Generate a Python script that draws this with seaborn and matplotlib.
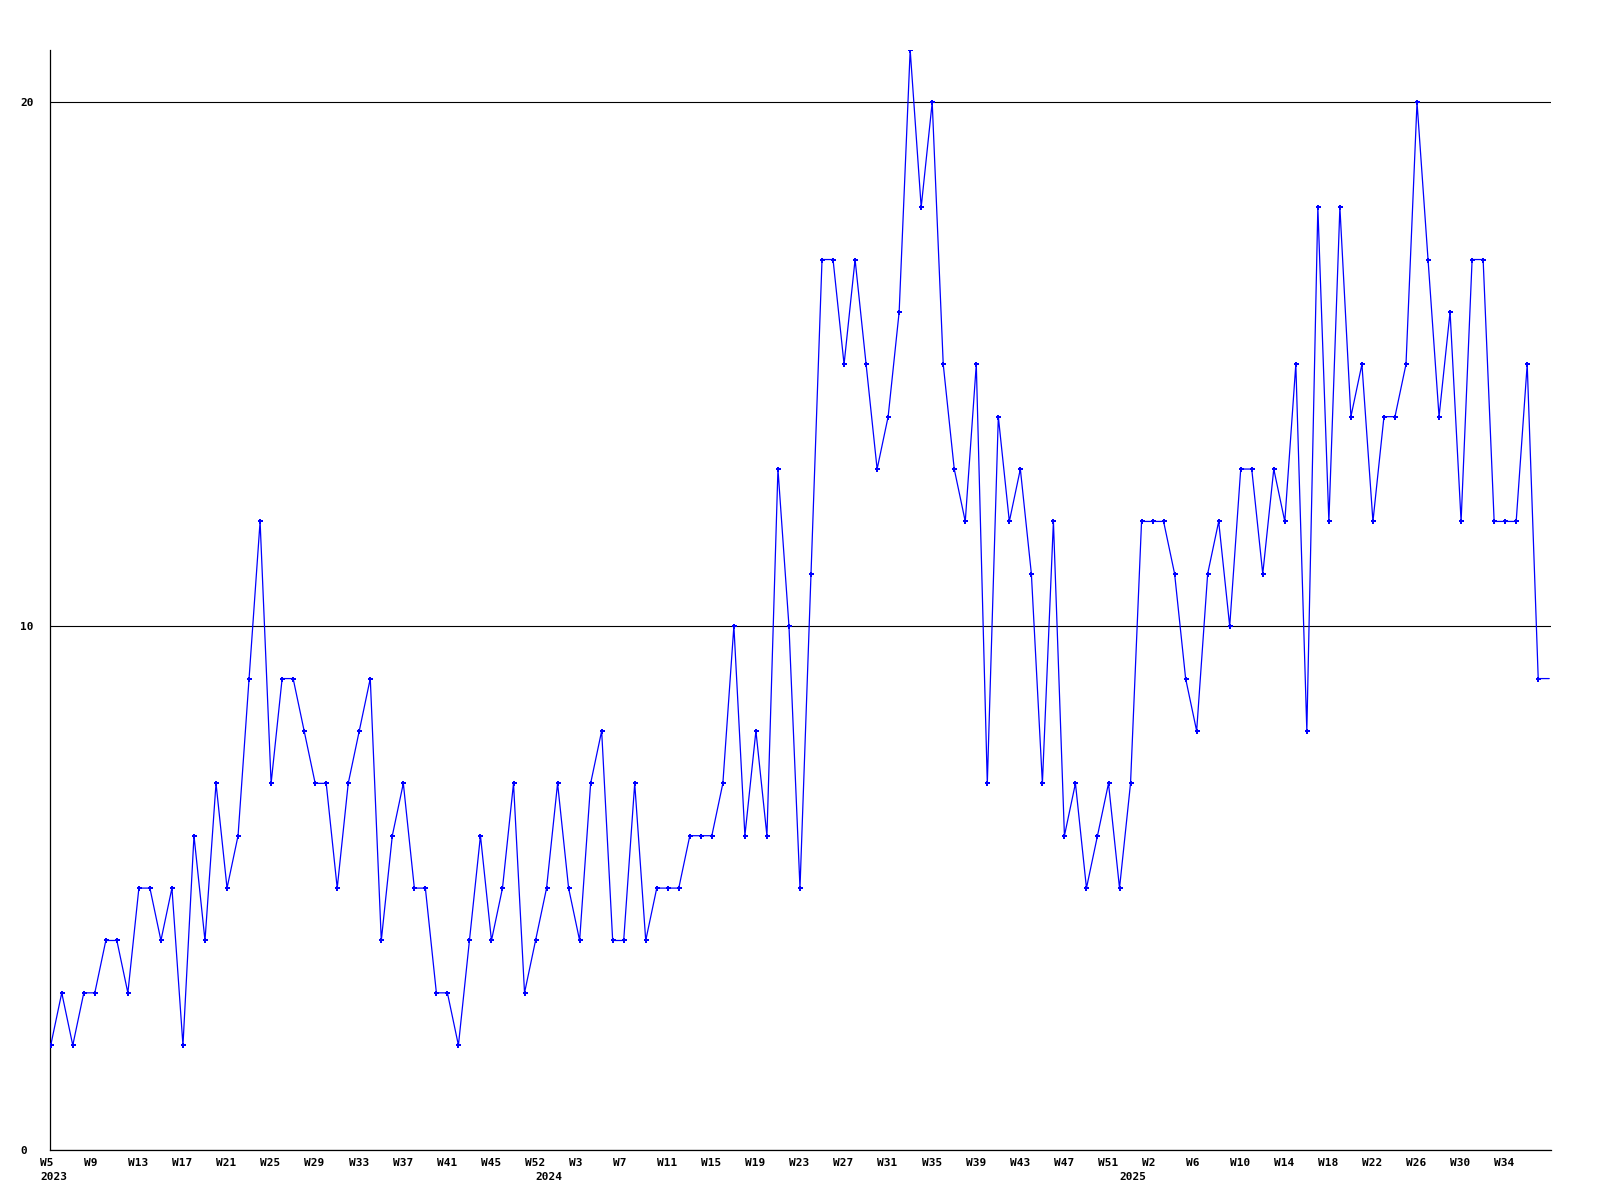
import numpy as np
import pandas as pd
import matplotlib
matplotlib.use("Agg")
import matplotlib.pyplot as plt
import seaborn as sns
from matplotlib.transforms import ScaledTranslation, blended_transform_factory

# ---- data (weekly values, W5 2023 .. 2025) ----
values = [
    2, 3, 2, 3, 3, 4, 4, 3, 5, 5, 4, 5, 2, 6, 4, 7, 5, 6, 9, 12,
    7, 9, 9, 8, 7, 7, 5, 7, 8, 9, 4, 6, 7, 5, 5, 3, 3, 2,
    4, 6, 4, 5, 7, 3, 4, 5, 7, 5, 4, 7, 8, 4, 4, 7, 4, 5, 5, 5,
    6, 6, 6, 7, 10, 6, 8, 6, 13, 10, 5, 11,
    17, 17, 15, 17, 15, 13, 14, 16, 21, 18, 20, 15, 13, 12, 15, 7,
    14, 12, 13, 11, 7, 12, 6, 7, 5, 6, 7, 5, 7, 12, 12, 12, 11, 9, 8, 11, 12,
    10, 13, 13, 11, 13, 12, 15, 8, 18, 12, 18, 14, 15, 12, 14, 14, 15, 20,
    17, 14, 16, 12, 17, 17, 12, 12, 12, 15, 9, 9,
]
tick_labels = ["W5", "W9", "W13", "W17", "W21", "W25", "W29", "W33", "W37",
               "W41", "W45", "W52", "W3", "W7", "W11", "W15", "W19", "W23",
               "W27", "W31", "W35", "W39", "W43", "W47", "W51", "W2", "W6",
               "W10", "W14", "W18", "W22", "W26", "W30", "W34"]
year_labels = ["2023", "2024", "2025"]
year_index = [0, 45, 98]
y_ticks = [0, 10, 20]

sns.set_theme(style="white")
plt.rcParams["font.family"] = ["DejaVu Sans Mono"]

fig = plt.figure(figsize=(16, 12), dpi=100)
ax = fig.add_axes([50.3 / 1600, 50 / 1200, 1500.7 / 1600, 1100 / 1200])

n = len(values)
df = pd.DataFrame({"idx": np.arange(n), "value": values})
sns.lineplot(data=df, x="idx", y="value", ax=ax, color="#0000ff",
             linewidth=0.9, marker="P", markersize=3.6, markeredgewidth=0,
             markevery=list(range(n - 1)), zorder=3)

ax.set_xlim(-0.04, 136.16)
ax.set_ylim(0, 21)
ax.set_xlabel("")
ax.set_ylabel("")
ax.set_axisbelow(True)
ax.yaxis.grid(True, color="black", linewidth=0.8)
ax.xaxis.grid(False)
for s in ["top", "right"]:
    ax.spines[s].set_visible(False)
for s in ["left", "bottom"]:
    ax.spines[s].set_color("black")
    ax.spines[s].set_linewidth(0.9)

ax.set_yticks(y_ticks)
ax.set_yticklabels([str(v) for v in y_ticks], fontsize=8, fontweight="bold",
                   ha="left", color="black")
ax.tick_params(axis="y", length=0, pad=21.6)

ax.set_xticks(list(range(0, n, 4))[:len(tick_labels)])
ax.set_xticklabels(tick_labels, fontsize=8, fontweight="bold", ha="left",
                   color="black")
ax.tick_params(axis="x", length=0, pad=6.0)
shift = ScaledTranslation(-10.7 / 100, 0, fig.dpi_scale_trans)
for lbl in ax.get_xticklabels():
    lbl.set_transform(lbl.get_transform() + shift)

trans = blended_transform_factory(ax.transData, fig.transFigure) + shift
for lab, i in zip(year_labels, year_index):
    ax.text(i, 1 - 1177 / 1200, lab, transform=trans, ha="left",
            va="center", fontsize=8, fontweight="bold", color="black")

fig.savefig("out.png", dpi=100)
